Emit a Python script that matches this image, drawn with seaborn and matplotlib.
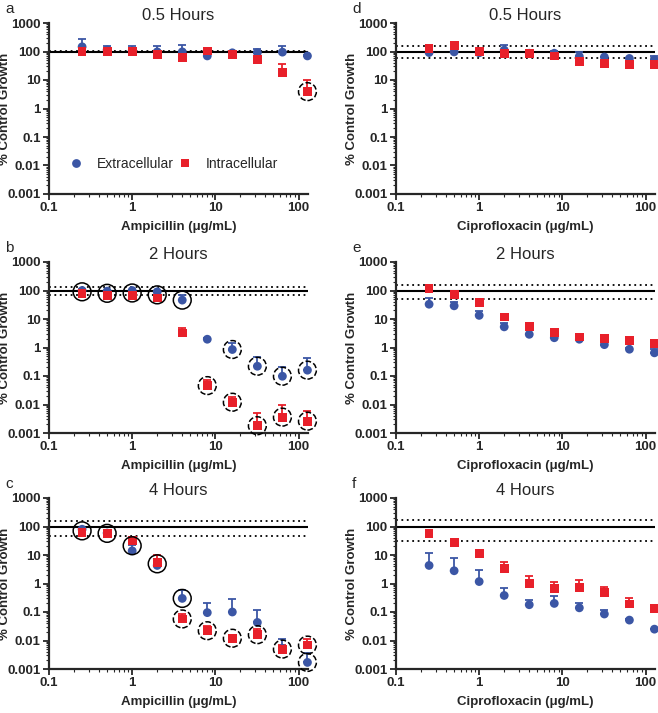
import numpy as np
import pandas as pd
import seaborn as sns
import matplotlib.pyplot as plt

conc = [0.25, 0.5, 1, 2, 4, 8, 16, 32, 64, 128]

# % control growth (mean) and top of upper error bar, per panel
a_ext = [146, 115, 105, 97, 97, 70, 90, 92, 95, 70]
a_ext_err = [270, 160, 150, 150, 170, 75, 100, 125, 150, 75]
a_int = [100, 100, 97, 78, 61, 105, 78, 52, 18, 3.9]
a_int_err = [105, 105, 100, 80, 63, 110, 80, 55, 35, 10]

b_ext = [100, 95, 100, 90, 46, 1.95, 0.85, 0.22, 0.098, 0.16]
b_ext_err = [110, 100, 105, 95, 72, 2.2, 1.4, 0.45, 0.2, 0.42]
b_int = [81, 67, 67, 55, 3.2, 0.046, 0.012, 0.0018, 0.0036, 0.0026]
b_int_err = [85, 70, 70, 58, 5, 0.072, 0.019, 0.0052, 0.01, 0.006]

c_ext = [80, 59, 14, 4.3, 0.30, 0.095, 0.1, 0.043, 0.0053, 0.0017]
c_ext_err = [90, 62, 22, 5, 0.57, 0.2, 0.28, 0.12, 0.011, 0.0035]
c_int = [62, 56, 32, 5.6, 0.057, 0.022, 0.012, 0.016, 0.0047, 0.0069]
c_int_err = [65, 58, 40, 10, 0.082, 0.031, 0.015, 0.026, 0.007, 0.011]

d_ext = [92, 97, 90, 112, 87, 87, 67, 64, 57, 51]
d_ext_err = [95, 100, 95, 170, 100, 105, 95, 66, 60, 67]
d_int = [127, 158, 97, 87, 85, 70, 46, 39, 35, 35]
d_int_err = [130, 160, 100, 90, 88, 72, 48, 40, 36, 36]

e_ext = [33, 29, 13.4, 5.3, 2.9, 2.2, 1.95, 1.26, 0.87, 0.65]
e_ext_err = [55, 40, 19, 7.5, 4, 3, 2.3, 1.7, 1.0, 0.9]
e_int = [117, 72, 39, 11.7, 5.4, 3.3, 2.35, 2.1, 1.8, 1.42]
e_int_err = [120, 75, 41, 15, 5.8, 4, 2.5, 2.2, 1.9, 1.5]

f_ext = [4.3, 2.8, 1.17, 0.38, 0.18, 0.2, 0.14, 0.085, 0.052, 0.025]
f_ext_err = [11.7, 7.6, 2.9, 0.68, 0.27, 0.37, 0.2, 0.12, 0.055, 0.026]
f_int = [57, 27.5, 11, 3.3, 1.0, 0.65, 0.74, 0.48, 0.19, 0.13]
f_int_err = [60, 29, 14, 5.9, 1.8, 1.1, 1.3, 0.75, 0.3, 0.15]

# reference band lines (solid at 100, dotted limits)
a_lim = [108, 93]
b_lim = [135, 68]
c_lim = [155, 47]
d_lim = [160, 60]
e_lim = [155, 50]
f_lim = [167, 32]

# circled points: (concentration, which series)
b_solid = [(0.25, 'both'), (0.5, 'both'), (1, 'both'), (2, 'both'), (4, 'ext')]
b_dashed = [(16, 'ext'), (32, 'ext'), (64, 'ext'), (128, 'ext'),
            (8, 'int'), (16, 'int'), (32, 'int'), (64, 'int'), (128, 'int')]
c_solid = [(0.25, 'both'), (0.5, 'both'), (1, 'both'), (2, 'both'), (4, 'ext')]
c_dashed = [(4, 'int'), (8, 'int'), (16, 'int'), (32, 'int'), (64, 'both'),
            (128, 'int'), (128, 'ext')]
a_dashed = [(128, 'int')]

blue = '#3B56A5'
red = '#E8202A'

sns.set_style('ticks')
plt.rcParams['font.family'] = ['Liberation Sans', 'DejaVu Sans']

fig = plt.figure(figsize=(6.58, 7.13), dpi=100)

lefts = [49 / 658, 396 / 658]
w = 259 / 658
bottoms = [519 / 713, 280 / 713, 44 / 713]
h = 171 / 713

panels = [
    ('a', 0, 0, 'Ampicillin', '0.5 Hours', a_ext, a_ext_err, a_int, a_int_err, a_lim, [], a_dashed),
    ('b', 0, 1, 'Ampicillin', '2 Hours', b_ext, b_ext_err, b_int, b_int_err, b_lim, b_solid, b_dashed),
    ('c', 0, 2, 'Ampicillin', '4 Hours', c_ext, c_ext_err, c_int, c_int_err, c_lim, c_solid, c_dashed),
    ('d', 1, 0, 'Ciprofloxacin', '0.5 Hours', d_ext, d_ext_err, d_int, d_int_err, d_lim, [], []),
    ('e', 1, 1, 'Ciprofloxacin', '2 Hours', e_ext, e_ext_err, e_int, e_int_err, e_lim, [], []),
    ('f', 1, 2, 'Ciprofloxacin', '4 Hours', f_ext, f_ext_err, f_int, f_int_err, f_lim, [], []),
]

for letter, col, row, drug, title, ext, ext_err, intr, int_err, lim, solid, dashed in panels:
    ax = fig.add_axes([lefts[col], bottoms[row], w, h])
    ax.set_xscale('log')
    ax.set_yscale('log')

    ax.axhline(100, color='black', lw=1.5, zorder=1)
    for v in lim:
        ax.axhline(v, color='black', lw=1.3, ls=(0, (1, 2)), zorder=1)

    # upper-only error bars
    for vals, errs, c in [(intr, int_err, red), (ext, ext_err, blue)]:
        up = np.array(errs) - np.array(vals)
        ax.errorbar(conc, vals, yerr=[np.zeros(len(vals)), up], fmt='none',
                    ecolor=c, elinewidth=1.3, capsize=3, capthick=1.3,
                    zorder=2, clip_on=False)

    df = pd.DataFrame({
        'conc': conc * 2,
        'growth': list(ext) + list(intr),
        'type': ['Extracellular'] * len(conc) + ['Intracellular'] * len(conc),
    })
    sns.scatterplot(data=df, x='conc', y='growth', hue='type', style='type',
                    palette={'Extracellular': blue, 'Intracellular': red},
                    markers={'Extracellular': 'o', 'Intracellular': 's'},
                    s=40, linewidth=0, ax=ax, zorder=3, clip_on=False,
                    legend=(letter == 'a'))

    def circ_y(x, which):
        i = conc.index(x)
        if which == 'ext':
            return ext[i]
        if which == 'int':
            return intr[i]
        return np.sqrt(ext[i] * intr[i])

    if solid:
        ax.scatter([x for x, _ in solid], [circ_y(x, wh) for x, wh in solid],
                   s=165, facecolors='none', edgecolors='black', linewidths=1.1,
                   zorder=4, clip_on=False)
    if dashed:
        ax.scatter([x for x, _ in dashed], [circ_y(x, wh) for x, wh in dashed],
                   s=165, facecolors='none', edgecolors='black', linewidths=1.1,
                   linestyles='--', zorder=4, clip_on=False)

    ax.set_xlim(0.1, 130)
    ax.set_ylim(0.001, 1000)
    ax.set_xticks([0.1, 1, 10, 100])
    ax.set_xticklabels(['0.1', '1', '10', '100'])
    ax.set_yticks([0.001, 0.01, 0.1, 1, 10, 100, 1000])
    ax.set_yticklabels(['0.001', '0.01', '0.1', '1', '10', '100', '1000'])
    for lab in ax.get_xticklabels() + ax.get_yticklabels():
        lab.set_fontweight('bold')
        lab.set_fontsize(9.5)
    ax.tick_params(which='major', length=4, width=1.3, pad=2)
    ax.tick_params(which='minor', length=2, width=0.8)
    sns.despine(ax=ax)
    for sp in ['left', 'bottom']:
        ax.spines[sp].set_linewidth(1.6)

    ax.set_xlabel(drug + ' (\u03bcg/mL)', fontsize=9.5, fontweight='bold', labelpad=5)
    ax.set_ylabel('% Control Growth', fontsize=9.5, fontweight='bold')
    ax.yaxis.set_label_coords(-0.148, 0.5)
    ax.set_title(title, fontsize=12, pad=0)
    ax.text(-0.17, 1.12, letter, transform=ax.transAxes, fontsize=11,
            va='top', ha='left')

    if letter == 'a':
        ax.legend(loc='center left', bbox_to_anchor=(0.077, 0.176), ncol=2,
                  frameon=False, fontsize=10, handlelength=1.0,
                  handletextpad=1.0, columnspacing=0.3, borderpad=0,
                  borderaxespad=0, markerscale=1.0)

fig.savefig('out.png', dpi=100)
